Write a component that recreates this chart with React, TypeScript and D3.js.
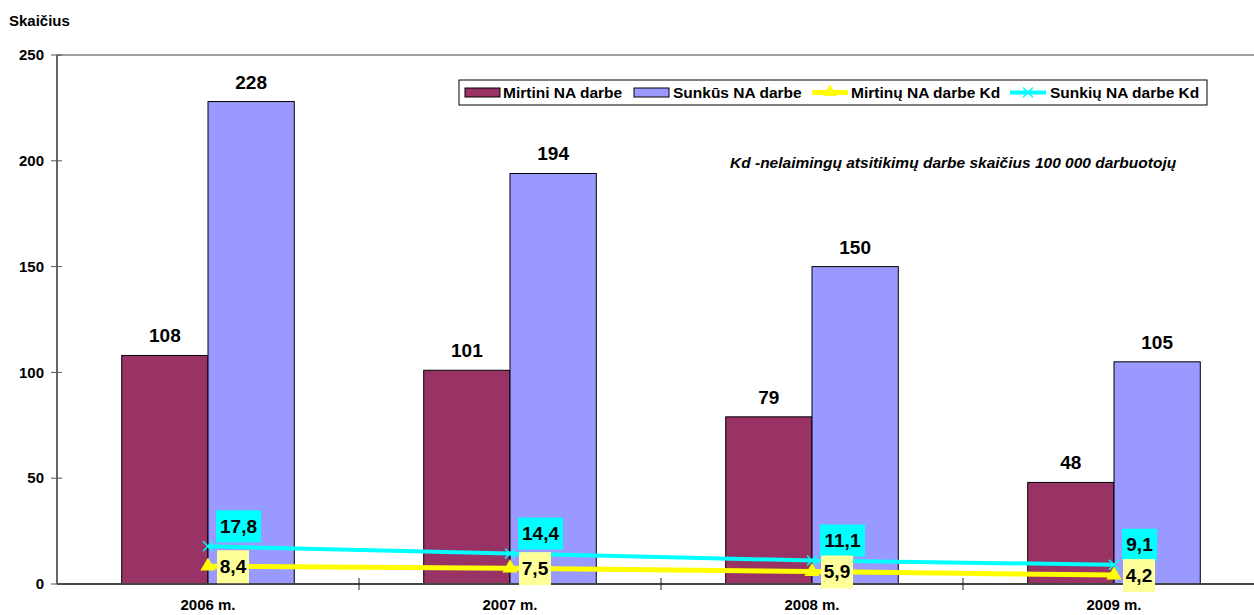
import React from "react";
import * as d3 from "d3";

const categories = ["2006 m.", "2007 m.", "2008 m.", "2009 m."];
const mirtini = [108, 101, 79, 48];
const sunkus = [228, 194, 150, 105];
const mirtinuKd = [8.4, 7.5, 5.9, 4.2];
const sunkiuKd = [17.8, 14.4, 11.1, 9.1];
const yTicks = [0, 50, 100, 150, 200, 250];
const barSeries = ["Mirtini NA darbe", "Sunkūs NA darbe"];
const lineSeries = ["Mirtinų NA darbe Kd", "Sunkių NA darbe Kd"];
const yTitle = "Skaičius";
const note = "Kd -nelaimingų atsitikimų darbe skaičius 100 000 darbuotojų";

const W = 1254;
const H = 615;
const FONT = "'Liberation Sans', Arial, sans-serif";
const C_MAROON = "#993366";
const C_BLUE = "#9999FF";
const C_YEL = "#FFFF00";
const C_CYAN = "#00FFFF";

const fmt = (v: number) => v.toFixed(1).replace(".", ",");

export default function App() {
  const left = 57;
  const step = 302;
  const x = d3.scaleBand<string>().domain(categories).range([left, left + step * categories.length]).padding(0);
  const x1 = d3.scaleBand<string>().domain(barSeries).range([0, x.bandwidth()]).paddingInner(0).paddingOuter(0.75);
  const y = d3.scaleLinear().domain([0, 250]).range([584, 55]);
  const cx = (c: string) => (x(c) as number) + x.bandwidth() / 2;

  const line = d3.line<[number, number]>().x((d) => d[0]).y((d) => d[1]);
  const yelPts: [number, number][] = categories.map((c, i) => [cx(c), y(mirtinuKd[i])]);
  const cyaPts: [number, number][] = categories.map((c, i) => [cx(c), y(sunkiuKd[i])]);

  const tri = d3.symbol().type(d3.symbolTriangle).size(100)();
  const triSmall = d3.symbol().type(d3.symbolTriangle).size(80)();
  const txt = { fontFamily: FONT, fontWeight: 700 as const };

  const legendItems = [
    { kind: "bar", color: C_MAROON, label: barSeries[0], sx: 465, tx: 503 },
    { kind: "bar", color: C_BLUE, label: barSeries[1], sx: 634, tx: 673 },
    { kind: "yel", color: C_YEL, label: lineSeries[0], sx: 812, tx: 851 },
    { kind: "cya", color: C_CYAN, label: lineSeries[1], sx: 1010, tx: 1050 },
  ];

  return (
    <svg width={W} height={H} style={{ position: "absolute", left: 0, top: 0, background: "#fff" }}>
      <line x1={left} x2={W} y1={y(250)} y2={y(250)} stroke="#808080" strokeWidth={1.5} />
      {categories.map((c, i) => (
        <g key={c}>
          {[mirtini[i], sunkus[i]].map((v, j) => {
            const bx = (x(c) as number) + (x1(barSeries[j]) as number);
            return (
              <g key={j}>
                <rect x={bx} y={y(v)} width={x1.bandwidth()} height={y(0) - y(v)} fill={j === 0 ? C_MAROON : C_BLUE} stroke="#000" strokeWidth={1} />
                <text x={bx + x1.bandwidth() / 2} y={y(v) - 13} textAnchor="middle" fontSize={19} {...txt}>{v}</text>
              </g>
            );
          })}
        </g>
      ))}
      <line x1={left} x2={left} y1={y(250)} y2={y(0)} stroke="#333" strokeWidth={1.5} />
      <line x1={left} x2={W} y1={y(0)} y2={y(0)} stroke="#444" strokeWidth={2} />
      {yTicks.map((t) => (
        <g key={t}>
          <line x1={51} x2={62} y1={y(t)} y2={y(t)} stroke="#555" strokeWidth={1} />
          <text x={44} y={y(t)} dy="0.35em" textAnchor="end" fontSize={15} {...txt}>{t}</text>
        </g>
      ))}
      {categories.slice(1).map((c) => (
        <line key={c} x1={x(c) as number} x2={x(c) as number} y1={578} y2={590} stroke="#222" strokeWidth={1} />
      ))}
      {categories.map((c) => (
        <text key={c} x={cx(c)} y={610} textAnchor="middle" fontSize={15} {...txt}>{c}</text>
      ))}
      <text x={9} y={26} fontSize={15} {...txt}>{yTitle}</text>

      <path d={line(cyaPts) as string} fill="none" stroke={C_CYAN} strokeWidth={4} />
      <path d={line(yelPts) as string} fill="none" stroke={C_YEL} strokeWidth={5} />
      {cyaPts.map((p, i) => (
        <g key={i} stroke={C_CYAN} strokeWidth={1.5}>
          <line x1={p[0] - 5} x2={p[0] + 5} y1={p[1] - 5} y2={p[1] + 5} />
          <line x1={p[0] - 5} x2={p[0] + 5} y1={p[1] + 5} y2={p[1] - 5} />
        </g>
      ))}
      {yelPts.map((p, i) => (
        <path key={i} d={tri as string} transform={`translate(${p[0]},${p[1]})`} fill={C_YEL} />
      ))}
      {cyaPts.map((p, i) => {
        const t = fmt(sunkiuKd[i]);
        const w = t.length * 10 + 5;
        return (
          <g key={i}>
            <rect x={p[0] + 8} y={p[1] - 36} width={w} height={32} fill={C_CYAN} />
            <text x={p[0] + 8 + w / 2} y={p[1] - 20} dy="0.35em" textAnchor="middle" fontSize={19} {...txt}>{t}</text>
          </g>
        );
      })}
      {yelPts.map((p, i) => {
        const t = fmt(mirtinuKd[i]);
        const w = t.length * 10 + 2;
        return (
          <g key={i}>
            <rect x={p[0] + 9} y={p[1] - 16} width={w} height={33} fill="#FFFF99" />
            <text x={p[0] + 9 + w / 2} y={p[1]} dy="0.35em" textAnchor="middle" fontSize={19} {...txt}>{t}</text>
          </g>
        );
      })}

      <rect x={459} y={80} width={748} height={25} fill="#fff" stroke="#000" strokeWidth={1} />
      {legendItems.map((it, i) => (
        <g key={i}>
          {it.kind === "bar" ? (
            <rect x={it.sx} y={88} width={35} height={9} fill={it.color} stroke="#000" strokeWidth={1} />
          ) : (
            <g>
              <line x1={it.sx} x2={it.sx + 36} y1={92.5} y2={92.5} stroke={it.color} strokeWidth={it.kind === "yel" ? 5 : 4} />
              {it.kind === "yel" ? (
                <path d={triSmall as string} transform={`translate(${it.sx + 18},${92})`} fill={it.color} />
              ) : (
                <g stroke={it.color} strokeWidth={1.5}>
                  <line x1={it.sx + 13} x2={it.sx + 23} y1={87.5} y2={97.5} />
                  <line x1={it.sx + 13} x2={it.sx + 23} y1={97.5} y2={87.5} />
                </g>
              )}
            </g>
          )}
          <text x={it.tx} y={98} fontSize={15.5} {...txt}>{it.label}</text>
        </g>
      ))}
      <text x={730} y={168} fontSize={15.5} fontStyle="italic" {...txt}>{note}</text>
    </svg>
  );
}
